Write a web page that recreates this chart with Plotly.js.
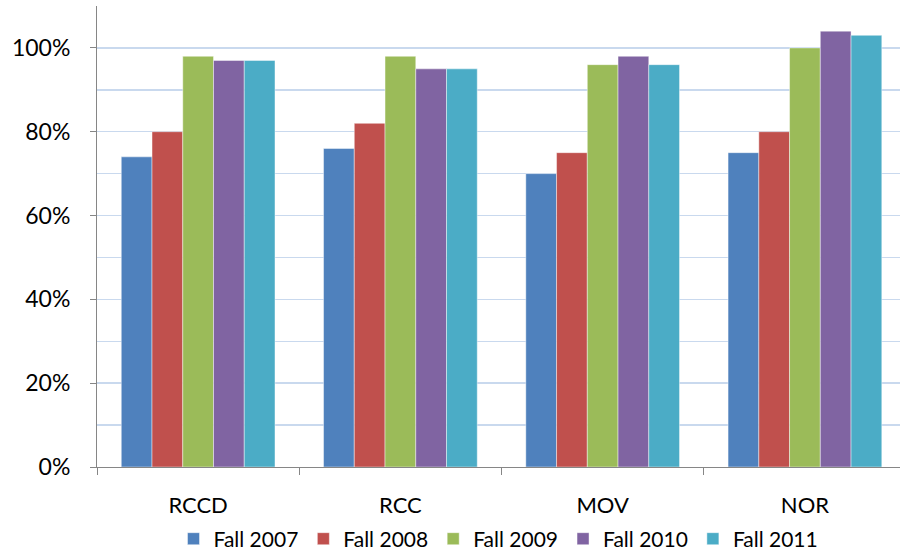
<!DOCTYPE html>
<html>
<head>
<meta charset="utf-8">
<script src="https://cdn.plot.ly/plotly-3.0.1.min.js"></script>
<style>
  html, body { margin: 0; padding: 0; background: #fff; overflow: hidden; }
  #chart { width: 900px; height: 554px; }
</style>
</head>
<body>
<div id="chart"></div>
<script>
// Colleges on the x axis
const colleges = ['RCCD', 'RCC', 'MOV', 'NOR'];

// Percent values per fall term
const fall2007 = [74, 76, 70, 75];
const fall2008 = [80, 82, 75, 80];
const fall2009 = [98, 98, 96, 100];
const fall2010 = [97, 95, 98, 104];
const fall2011 = [97, 95, 96, 103];

const seriesNames = ['Fall 2007', 'Fall 2008', 'Fall 2009', 'Fall 2010', 'Fall 2011'];
const seriesValues = [fall2007, fall2008, fall2009, fall2010, fall2011];
const seriesColors = ['#4f81bd', '#c0504d', '#9bbb59', '#8064a2', '#4bacc6'];

const yTickVals = [0, 20, 40, 60, 80, 100];
const yTickText = ['0%', '20%', '40%', '60%', '80%', '100%'];

const traces = seriesNames.map((name, i) => ({
  type: 'bar',
  name: name,
  x: colleges,
  y: seriesValues[i],
  marker: {
    color: seriesColors[i],
    line: { color: 'rgba(255,255,255,0.55)', width: 0.8 }
  },
  hoverinfo: 'x+y+name'
}));

const font = "Lato, 'Open Sans', 'Liberation Sans', sans-serif";

const layout = {
  width: 900,
  height: 554,
  margin: { l: 97, r: 0, t: 6, b: 87, autoexpand: false },
  paper_bgcolor: '#ffffff',
  plot_bgcolor: '#ffffff',
  barmode: 'group',
  bargap: 0.24,
  bargroupgap: 0,
  font: { family: font, color: '#000000', size: 22 },
  xaxis: {
    type: 'category',
    range: [-0.5, 3.47],
    showgrid: false,
    showline: true,
    linecolor: '#868686',
    linewidth: 1,
    ticks: 'outside',
    tickson: 'boundaries',
    ticklen: 7,
    tickcolor: '#868686',
    tickfont: { size: 22, family: font },
    ticklabelstandoff: 19,
    zeroline: false
  },
  yaxis: {
    range: [0, 110],
    tickvals: yTickVals,
    ticktext: yTickText,
    showgrid: true,
    gridcolor: '#c9d9ee',
    gridwidth: 1.5,
    minor: { dtick: 10, tick0: 0, showgrid: true, gridcolor: '#c9d9ee', gridwidth: 1.5, ticks: '' },
    showline: true,
    linecolor: '#868686',
    linewidth: 1,
    ticks: 'outside',
    ticklen: 6,
    tickcolor: '#868686',
    tickfont: { size: 23, family: font },
    ticklabelstandoff: 15,
    zeroline: false
  },
  showlegend: true,
  legend: {
    orientation: 'h',
    x: 0.5,
    xanchor: 'center',
    yref: 'container',
    y: 0.027,
    yanchor: 'middle',
    font: { size: 21, family: font },
    itemwidth: 30,
    tracegroupgap: 0,
    bgcolor: 'rgba(0,0,0,0)'
  }
};

Plotly.newPlot('chart', traces, layout, { displayModeBar: false, staticPlot: true });
</script>
</body>
</html>
